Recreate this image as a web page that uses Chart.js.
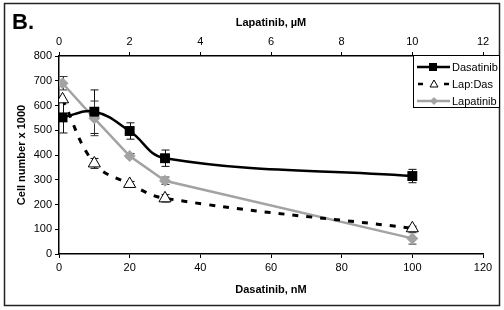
<!DOCTYPE html>
<html><head><meta charset="utf-8">
<script src="https://cdn.jsdelivr.net/npm/chart.js@4.4.1/dist/chart.umd.min.js"></script>
<style>
html,body{margin:0;padding:0;background:#fff;}
#wrap{position:relative;width:504px;height:310px;}
</style></head>
<body><div id="wrap"><canvas id="c" width="504" height="310"></canvas></div>
<script>
const doseNM = [1, 10, 20, 30, 100];
const dasatinib = [552, 575, 497, 387, 315];
const dasatinibErr = [63, 88, 33, 33, 27];
const lapDas = [625, 366, 283, 225, 104];
const lapDasErr = [0, 20, 10, 15, 8];
const lapatinib = [690, 548, 396, 296, 63];
const lapatinibErr = [27, 70, 10, 15, 23];
const seriesNames = ['Dasatinib', 'Lap:Das', 'Lapatinib'];
const GRAY = '#a3a3a3';
const FONT = '"Liberation Sans", Arial, sans-serif';

const toPts = vals => doseNM.map((x, i) => ({x: x, y: vals[i]}));

const errPlugin = {
  id: 'errbars',
  beforeDatasetsDraw(chart) {
    const ctx = chart.ctx, xs = chart.scales.x, ys = chart.scales.y;
    const sets = [[dasatinib, dasatinibErr, '#111'], [lapDas, lapDasErr, '#111'], [lapatinib, lapatinibErr, '#333']];
    ctx.save();
    ctx.lineWidth = 1;
    sets.forEach(([v, e, col]) => {
      ctx.strokeStyle = col;
      doseNM.forEach((x, i) => {
        if (!e[i]) return;
        const px = Math.round(xs.getPixelForValue(x)) + 0.5;
        const t = ys.getPixelForValue(v[i] + e[i]);
        const b = ys.getPixelForValue(v[i] - e[i]);
        ctx.beginPath();
        ctx.moveTo(px, t); ctx.lineTo(px, b);
        ctx.moveTo(px - 4, t); ctx.lineTo(px + 4, t);
        ctx.moveTo(px - 4, b); ctx.lineTo(px + 4, b);
        ctx.stroke();
      });
    });
    ctx.restore();
  }
};

const decoPlugin = {
  id: 'deco',
  afterDraw(chart) {
    const ctx = chart.ctx;
    ctx.save();
    ctx.strokeStyle = '#222'; ctx.lineWidth = 1.5;
    ctx.strokeRect(4.5, 3.5, 495, 302);
    ctx.fillStyle = '#000';
    ctx.font = 'bold 22px ' + FONT;
    ctx.textBaseline = 'middle'; ctx.textAlign = 'left';
    ctx.fillText('B.', 12, 23);
    const L = 413, T = 55, R = 500, B = 108;
    ctx.fillStyle = '#fff';
    ctx.fillRect(L, T, R - L, B - T);
    ctx.strokeStyle = '#000'; ctx.lineWidth = 1;
    ctx.strokeRect(L + 0.5, T + 0.5, R - L - 1, B - T - 1);
    const rows = [67, 84, 101];
    ctx.strokeStyle = '#000'; ctx.lineWidth = 2.5;
    ctx.beginPath(); ctx.moveTo(417, rows[0]); ctx.lineTo(450, rows[0]); ctx.stroke();
    ctx.fillStyle = '#000'; ctx.fillRect(429, rows[0] - 4, 8, 8);
    ctx.beginPath(); ctx.moveTo(418, rows[1]); ctx.lineTo(423, rows[1]); ctx.moveTo(444, rows[1]); ctx.lineTo(449, rows[1]); ctx.stroke();
    ctx.lineWidth = 1; ctx.fillStyle = '#fff';
    ctx.beginPath(); ctx.moveTo(434, rows[1] - 4); ctx.lineTo(438, rows[1] + 3); ctx.lineTo(430, rows[1] + 3); ctx.closePath(); ctx.fill(); ctx.stroke();
    ctx.strokeStyle = GRAY; ctx.lineWidth = 2.5;
    ctx.beginPath(); ctx.moveTo(417, rows[2]); ctx.lineTo(450, rows[2]); ctx.stroke();
    ctx.fillStyle = GRAY;
    ctx.beginPath(); ctx.moveTo(434, rows[2] - 4); ctx.lineTo(438, rows[2]); ctx.lineTo(434, rows[2] + 4); ctx.lineTo(430, rows[2]); ctx.closePath(); ctx.fill();
    ctx.fillStyle = '#000'; ctx.font = '11px ' + FONT; ctx.textAlign = 'left';
    seriesNames.forEach((n, i) => ctx.fillText(n, 452, rows[i] + 1));
    ctx.restore();
  }
};

new Chart(document.getElementById('c'), {
  type: 'line',
  data: {
    datasets: [
      {label: seriesNames[0], data: toPts(dasatinib), borderColor: '#000', backgroundColor: '#000', borderWidth: 2.5,
       tension: 0.4, pointStyle: 'rect', pointRadius: 7, pointBorderWidth: 0},
      {label: seriesNames[1], data: toPts(lapDas), borderColor: '#000', backgroundColor: '#fff', borderWidth: 3,
       borderDash: [6, 8], tension: 0.4, pointStyle: 'triangle', pointRadius: 7, pointBorderWidth: 1},
      {label: seriesNames[2], data: toPts(lapatinib), borderColor: GRAY, backgroundColor: GRAY, borderWidth: 2.5,
       tension: 0, pointStyle: 'rectRot', pointRadius: 6, pointBorderWidth: 0}
    ]
  },
  options: {
    responsive: false, animation: false, devicePixelRatio: 1,
    layout: {padding: {left: 9, right: 21, top: 0, bottom: 0}},
    plugins: {legend: {display: false}, tooltip: {enabled: false}},
    scales: {
      x: {
        type: 'linear', position: 'bottom', min: 0, max: 120,
        ticks: {stepSize: 20, color: '#000', font: {family: FONT, size: 11}, padding: 3},
        grid: {drawOnChartArea: false, color: '#000', tickLength: 4, tickColor: '#000'},
        border: {color: '#000', width: 1.5},
        title: {display: true, text: 'Dasatinib, nM', color: '#000', font: {family: FONT, size: 11, weight: 'bold'}, padding: {top: 0, bottom: 13}},
        afterFit(s) { s.height = 56; }
      },
      x2: {
        type: 'linear', position: 'top', min: 0, max: 12,
        ticks: {stepSize: 2, color: '#000', font: {family: FONT, size: 11}, padding: 3},
        grid: {drawOnChartArea: false, color: '#000', tickLength: 4, tickColor: '#000'},
        border: {color: '#000', width: 1.5},
        title: {display: true, text: 'Lapatinib, \u00b5M', color: '#000', font: {family: FONT, size: 11, weight: 'bold'}, padding: {top: 16, bottom: 0}},
        afterFit(s) { s.height = 56; }
      },
      y: {
        type: 'linear', min: 0, max: 800,
        ticks: {stepSize: 100, color: '#000', font: {family: FONT, size: 11}, padding: 3},
        grid: {drawOnChartArea: false, color: '#000', tickLength: 4, tickColor: '#000'},
        border: {color: '#000', width: 1.5},
        title: {display: true, text: 'Cell number x 1000', color: '#000', font: {family: FONT, size: 11, weight: 'bold'}, padding: {top: 6, bottom: 0}},
        afterFit(s) { s.width = 50; }
      }
    }
  },
  plugins: [errPlugin, decoPlugin]
});
</script></body></html>
